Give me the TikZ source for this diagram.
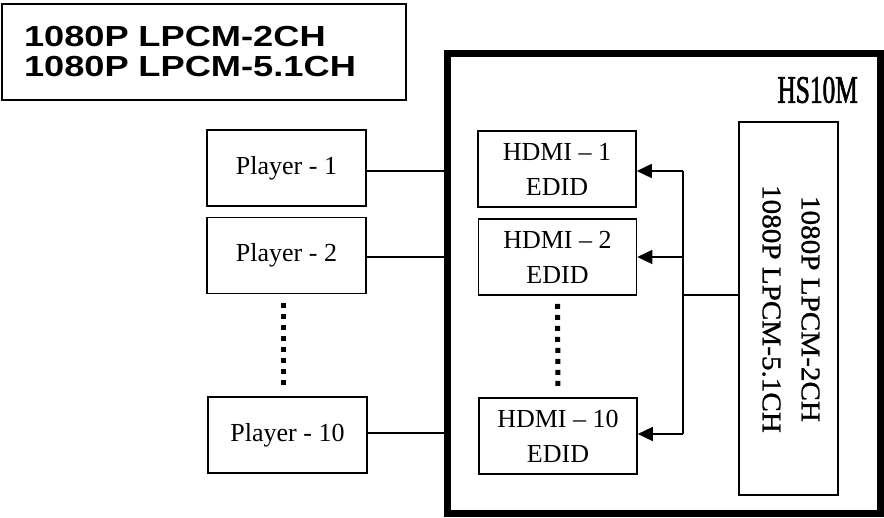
\documentclass[tikz,border=0pt]{standalone}
\usepackage{fontspec}
\usepackage{graphicx}
\setmainfont{Liberation Serif}
\newfontfamily\titlefont[FakeStretch=1.25]{Liberation Sans}
\newfontfamily\namefont[FakeStretch=0.65, FakeBold=1.5]{Liberation Serif}
\newfontfamily\lcdfont[FakeStretch=1.08, FakeBold=1]{Liberation Serif}
\usetikzlibrary{arrows.meta, calc}

\begin{document}
\begin{tikzpicture}[x=1pt, y=-1pt,
player_style/.style={rectangle, draw=black, line width=1.6pt, minimum width=159pt, minimum height=76pt, inner sep=0pt, font=\fontsize{26}{35}\selectfont, align=center},
edid_style/.style={player_style, minimum width=158pt},
wire_style/.style={line width=1.6pt, black},
arrow_style/.style={wire_style, -{Triangle[length=15pt, width=14pt]}},
dots_style/.style={line width=5pt, dash pattern=on 5pt off 6pt},
		]
\useasboundingbox (0,0) rectangle (884,518);

	% title box
	\node[draw, line width=1.6pt, text width=360pt, inner xsep=22pt, minimum height=96pt, align=left,
		font=\titlefont\bfseries\fontsize{29}{30}\selectfont] at (204,52) (title) {1080P LPCM-2CH\\1080P LPCM-5.1CH};

	% HS10M frame
	\node[draw, line width=7pt, minimum width=433pt, minimum height=459pt, inner sep=0pt] at (663.5,283.5) (hs_box) {};
	\node[anchor=east, font=\namefont\fontsize{39}{39}\selectfont, inner sep=0pt] at (858,90) (hs_name) {HS10M};

	% EDID source
	\node[draw, line width=1.6pt, minimum width=99pt, minimum height=373pt, inner sep=0pt] at (788.5,308.5) (lcd) {};
	\node[rotate=-90, align=center, font=\lcdfont\fontsize{27}{39}\selectfont] at (791,309) (lcd_text) {1080P LPCM-2CH\\1080P LPCM-5.1CH};

	% players and EDID boxes
	\node[player_style] at (286.5,168) (p1) {Player - 1};
	\node[player_style] at (286.5,255.5) (p2) {Player - 2};
	\node[player_style] at (287.5,435) (p10) {Player - 10};

	\node[edid_style] at (557,169) (e1) {HDMI -- 1\\EDID};
	\node[edid_style] at (557.5,257) (e2) {HDMI -- 2\\EDID};
	\node[edid_style] at (558,436) (e10) {HDMI -- 10\\EDID};

\foreach\i/\s in {1/3,2/1.5,10/-2}{
		\draw[wire_style] ([yshift=-\s pt]p\i.east) -- ([yshift=-\s pt]p\i.east -| hs_box.west);
		}

	\draw[dots_style] ([xshift=-3pt, yshift=-9pt]p2.south) -- ([xshift=-4pt, yshift=7pt]p10.north);
	\draw[dots_style] ([yshift=-8pt]e2.south) -- ([yshift=7pt]e10.north);

	% bus
	\coordinate (tap) at (683,295);
	\draw[wire_style] (lcd.west |- tap) -- (tap);
	\draw[wire_style] ([yshift=-2pt]tap |- e1) -- ([yshift=2pt]tap |- e10);
\foreach\i/\s in {1/2,2/0,10/-2}{
		\draw[arrow_style] ([yshift=-\s pt]tap |- e\i) -- ([yshift=-\s pt]e\i.east);
		}

\end{tikzpicture}
\end{document}
